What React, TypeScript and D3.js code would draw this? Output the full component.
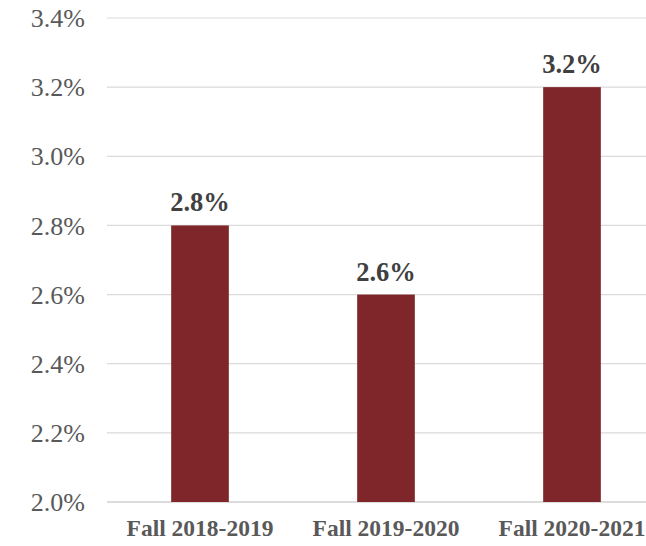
import React from 'react';
import * as d3 from 'd3';

const categories = ['Fall 2018-2019', 'Fall 2019-2020', 'Fall 2020-2021'];
const values = [2.8, 2.6, 3.2];
const ticks = [2.0, 2.2, 2.4, 2.6, 2.8, 3.0, 3.2, 3.4];

const App = () => {
  const width = 646;
  const height = 546;

  const x = d3.scaleBand().domain(categories).range([107, 665]).paddingInner(0.69).paddingOuter(0.345);
  const y = d3.scaleLinear().domain([2.0, 3.4]).range([502, 18]);

  return (
    <svg width={width} height={height} style={{ position: 'absolute', left: 0, top: 0 }}>
      <rect width={width} height={height} fill="#fff" />
      {ticks.map((t) => (
        <g key={t}>
          <line x1={107} x2={width} y1={y(t)} y2={y(t)} stroke={t === 2.0 ? '#d0d0d0' : '#dadada'} strokeWidth={t === 2.0 ? 1.5 : 1.2} />
          <text x={85} y={y(t)} dy="0.35em" textAnchor="end" fontFamily="'Liberation Serif', 'Times New Roman', serif" fontSize={26} fill="#595959">
            {t.toFixed(1)}%
          </text>
        </g>
      ))}
      {categories.map((c, i) => (
        <g key={c}>
          <rect x={x(c)} y={y(values[i])} width={x.bandwidth()} height={y(2.0) - y(values[i])} fill="#7e262a" />
          <text x={x(c)! + x.bandwidth() / 2} y={y(values[i]) - 14} textAnchor="middle" fontFamily="'Liberation Serif', 'Times New Roman', serif" fontWeight="bold" fontSize={26.5} fill="#404040">
            {values[i].toFixed(1)}%
          </text>
          <text x={x(c)! + x.bandwidth() / 2} y={536} textAnchor="middle" fontFamily="'Liberation Serif', 'Times New Roman', serif" fontWeight="bold" fontSize={23.5} fill="#595959">
            {c}
          </text>
        </g>
      ))}
    </svg>
  );
};

export default App;
